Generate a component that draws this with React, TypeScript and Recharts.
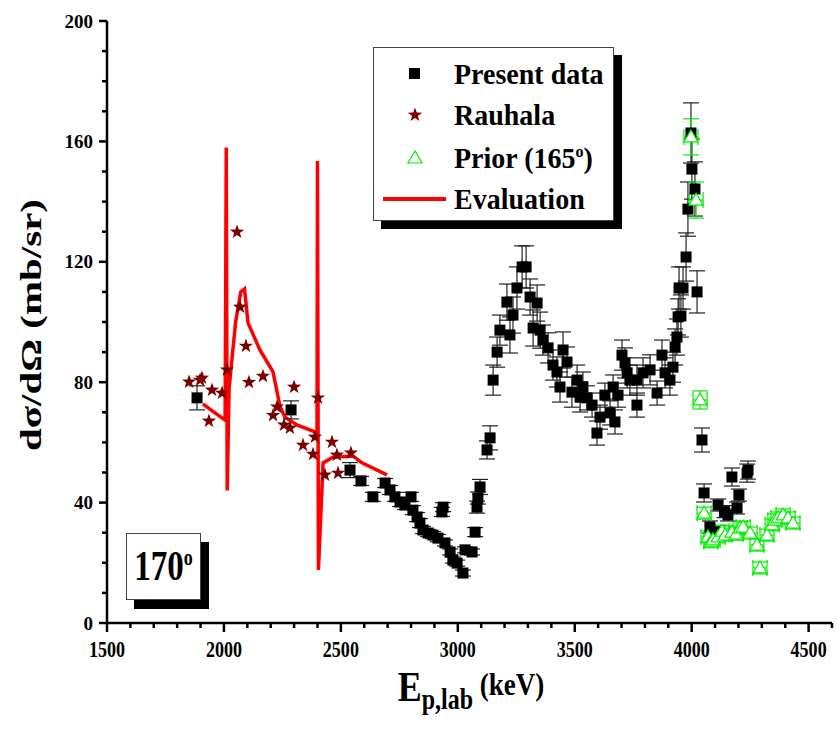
import React from "react";
import { ComposedChart, Scatter, Line, XAxis, YAxis, ErrorBar, Legend } from "recharts";

const FONT = '"Liberation Serif", "Times New Roman", serif';

// tick positions
const xMajor = [1500, 2000, 2500, 3000, 3500, 4000, 4500];
const xTicks = [
  1500, 1600, 1700, 1800, 1900, 2000, 2100, 2200, 2300, 2400, 2500, 2600, 2700, 2800, 2900, 3000,
  3100, 3200, 3300, 3400, 3500, 3600, 3700, 3800, 3900, 4000, 4100, 4200, 4300, 4400, 4500, 4600,
];
const yMajor = [0, 40, 80, 120, 160, 200];
const yTicks = [0, 10, 20, 30, 40, 50, 60, 70, 80, 90, 100, 110, 120, 130, 140, 150, 160, 170, 180, 190, 200];

// present data: [E (keV), dσ/dΩ, error]
const presentData: [number, number, number][] = [
  [1885, 74.8, 4], [2287, 70.8, 3], [2539, 50.8, 2.5], [2586, 47.2, 1.5], [2637, 41.9, 1.5],
  [2689, 46.5, 1.5], [2710, 44.2, 1.5], [2731, 41.9, 1.5], [2753, 40.2, 1.5], [2774, 39.2, 1.5],
  [2800, 41.9, 1.5], [2808, 37.5, 1.5], [2826, 35.2, 1.5], [2838, 33.2, 1.5], [2851, 30.9, 1.2],
  [2873, 29.9, 1.2], [2894, 29.2, 1.2], [2915, 28.2, 1.2], [2932, 36.9, 1.5], [2937, 38.5, 1.5],
  [2945, 26.6, 1], [2967, 23.6, 1], [2979, 20.9, 1], [2997, 19.9, 1], [3022, 16.6, 1],
  [3031, 24.3, 1], [3061, 23.6, 1], [3074, 30.2, 1.5], [3082, 38.5, 2], [3086, 41.5, 2],
  [3095, 45.2, 2.5], [3125, 57.5, 3], [3138, 61.5, 4], [3151, 80.7, 5], [3168, 90, 5],
  [3180, 97.3, 5], [3210, 106.6, 6], [3223, 95.7, 6], [3236, 102.3, 6], [3253, 111.3, 7],
  [3275, 118.3, 7], [3292, 118.3, 7], [3309, 108.3, 6], [3322, 98, 6], [3339, 106.3, 6],
  [3352, 97.3, 6], [3364, 94, 5], [3386, 91.4, 5], [3407, 85.7, 5], [3424, 83.4, 5],
  [3437, 78.4, 5], [3450, 90.7, 6], [3467, 86.7, 5], [3488, 76.7, 5], [3510, 80.7, 5],
  [3523, 75.1, 5], [3535, 78.4, 5], [3552, 74.8, 4], [3574, 72.4, 4], [3595, 63.1, 4],
  [3608, 68.4, 4], [3629, 75.7, 4], [3651, 69.8, 4], [3664, 78.4, 4], [3672, 66.8, 4],
  [3685, 75.7, 4], [3702, 89, 5], [3715, 86.4, 5], [3724, 83.1, 5], [3736, 80.7, 5],
  [3766, 72.4, 4], [3766, 80.7, 5], [3792, 83.1, 5], [3822, 84.1, 5], [3852, 76.4, 4],
  [3873, 89, 5], [3886, 83.1, 5], [3907, 80.7, 5], [3920, 85, 5], [3929, 91.7, 6],
  [3937, 95, 6], [3942, 101.7, 6], [3946, 111.3, 7], [3954, 102, 7], [3963, 111.3, 7],
  [3976, 121.6, 8], [3984, 137.5, 9], [3997, 162.8, 10], [4001, 150.8, 10], [4014, 144.2, 9],
  [4023, 110, 7], [4044, 60.8, 4], [4053, 43.2, 3], [4078, 31.9, 2], [4100, 30.2, 2],
  [4113, 39.2, 2], [4140, 37, 2], [4155, 35.9, 2], [4172, 48.5, 3], [4194, 38.2, 2],
  [4202, 42.5, 2], [4237, 49.8, 3], [4241, 50.8, 3],
];

// Rauhala: [E, dσ/dΩ]
const rauhalaData: [number, number][] = [
  [1851, 80.1], [1898, 80.7], [1906, 81.4], [1936, 67.1], [1949, 77.4], [1992, 76.4],
  [2013, 84.1], [2056, 129.9], [2069, 105], [2094, 92], [2107, 80], [2167, 82],
  [2210, 69], [2227, 71.8], [2257, 65.8], [2282, 64.8], [2300, 78.4], [2338, 59.1],
  [2381, 56.1], [2389, 61.8], [2402, 74.8], [2432, 49.2], [2462, 60.1], [2483, 55.8],
  [2488, 49.8], [2543, 56.5],
];

// Prior (165°): [E, dσ/dΩ, error]
const priorData: [number, number, number][] = [
  [3997, 161.5, 6], [4019, 140.5, 6], [4036, 74.1, 3], [4053, 36.5, 2], [4070, 28.6, 2],
  [4082, 27, 2], [4091, 27.6, 2], [4113, 28.6, 2], [4130, 30.5, 2], [4143, 29.2, 2],
  [4172, 30.2, 2], [4190, 29.5, 2], [4207, 31.6, 2], [4220, 31.9, 2], [4250, 29.9, 2],
  [4279, 25.9, 2], [4292, 18.3, 2], [4322, 29.2, 2], [4344, 32.6, 2], [4356, 34.2, 2],
  [4369, 34.9, 2], [4391, 35.9, 2], [4412, 34.9, 2], [4433, 33.2, 2],
];
const priorEnergyErr = 30;

// Evaluation curve: [E, dσ/dΩ]
const evaluationData: [number, number][] = [
  [1910, 72.8], [1950, 70.5], [2005, 67.4], [2010, 158], [2014, 44], [2022, 78],
  [2050, 100], [2072, 110], [2088, 111], [2103, 99.7], [2154, 90.7], [2210, 83.4],
  [2240, 71.8], [2261, 68.4], [2312, 65.8], [2389, 63.5], [2398, 63], [2400, 153.5],
  [2404, 17.6], [2424, 53.2], [2466, 55.1], [2552, 55.5], [2590, 53.2], [2697, 49.2],
];

const present = presentData.map(([x, y, err]) => ({ x, y, err }));
const rauhala = rauhalaData.map(([x, y]) => ({ x, y }));
const prior = priorData.map(([x, y, err]) => ({ x, y, err, xerr: priorEnergyErr }));
const evaluation = evaluationData.map(([x, y]) => ({ x, y }));

const starPath = (cx: number, cy: number, ro: number, ri: number) => {
  const pts: string[] = [];
  for (let i = 0; i < 10; i++) {
    const r = i % 2 === 0 ? ro : ri;
    const a = -Math.PI / 2 + (i * Math.PI) / 5;
    pts.push(`${cx + r * Math.cos(a)},${cy + r * Math.sin(a)}`);
  }
  return pts.join(" ");
};

const SquareDot = (p: any) => <rect x={p.cx - 5.5} y={p.cy - 5.5} width={11} height={11} fill="#000" />;
const StarDot = (p: any) => <polygon points={starPath(p.cx, p.cy, 7.5, 3)} fill="#7a0000" />;
const TriDot = (p: any) => (
  <polygon
    points={`${p.cx},${p.cy - 7} ${p.cx - 7},${p.cy + 5} ${p.cx + 7},${p.cy + 5}`}
    fill="#fff"
    stroke="#00ee00"
    strokeWidth={1.2}
  />
);

const tickText = { fontFamily: FONT, fontWeight: "bold" as const, fontSize: 19, fill: "#000" };

const BottomTick = ({ x, y, payload }: any) => {
  const major = xMajor.includes(payload.value);
  return (
    <g>
      <line x1={x} x2={x} y1={y} y2={y + (major ? 9 : 5)} stroke="#000" strokeWidth={2.5} />
      {major && (
        <text transform={`translate(${x},${y + 34}) scale(0.95,1.18)`} textAnchor="middle" {...tickText}>
          {payload.value}
        </text>
      )}
    </g>
  );
};

const TopTick = ({ x, y, payload }: any) => {
  const major = xMajor.includes(payload.value);
  return <line x1={x} x2={x} y1={y} y2={y + (major ? 9 : 5)} stroke="#000" strokeWidth={2.5} />;
};

const LeftTick = ({ x, y, payload }: any) => {
  const major = yMajor.includes(payload.value);
  return (
    <g>
      <line x1={x} x2={x - (major ? 8 : 5)} y1={y} y2={y} stroke="#000" strokeWidth={2.5} />
      {major && (
        <text x={x - 14} y={y} dy="0.35em" textAnchor="end" {...tickText}>
          {payload.value}
        </text>
      )}
    </g>
  );
};

const RightTick = ({ x, y, payload }: any) => {
  const major = yMajor.includes(payload.value);
  return <line x1={x} x2={x - (major ? 9 : 5)} y1={y} y2={y} stroke="#000" strokeWidth={2.5} />;
};

const LegendBox = () => {
  const rowStyle: React.CSSProperties = { position: "absolute", left: 0, height: 40, width: "100%", display: "flex", alignItems: "center" };
  const label: React.CSSProperties = { position: "absolute", left: 80, whiteSpace: "nowrap", transform: "scaleY(1.08)" };
  return (
    <div
      style={{
        position: "relative",
        width: 239,
        height: 172,
        border: "1px solid #444",
        background: "#fff",
        boxShadow: "8px 8px 0 #000",
        fontFamily: FONT,
        fontWeight: "bold",
        fontSize: 28,
        color: "#000",
      }}
    >
      <div style={{ ...rowStyle, top: 6 }}>
        <svg width={80} height={40} style={{ position: "absolute", left: 0 }}>
          <rect x={35} y={14} width={11} height={11} fill="#000" />
        </svg>
        <span style={label}>Present data</span>
      </div>
      <div style={{ ...rowStyle, top: 47 }}>
        <svg width={80} height={40} style={{ position: "absolute", left: 0 }}>
          <polygon points={starPath(41, 20, 7.5, 3)} fill="#7a0000" />
        </svg>
        <span style={label}>Rauhala</span>
      </div>
      <div style={{ ...rowStyle, top: 90 }}>
        <svg width={80} height={40} style={{ position: "absolute", left: 0 }}>
          <polygon points="41,13 34,25 48,25" fill="#fff" stroke="#00ee00" strokeWidth={1.2} />
        </svg>
        <span style={label}>
          Prior (165<sup style={{ fontSize: 16 }}>o</sup>)
        </span>
      </div>
      <div style={{ ...rowStyle, top: 131 }}>
        <svg width={80} height={40} style={{ position: "absolute", left: 0 }}>
          <line x1={9} x2={72} y1={20} y2={20} stroke="#ff0000" strokeWidth={4} />
        </svg>
        <span style={label}>Evaluation</span>
      </div>
    </div>
  );
};

export default function App() {
  return (
    <div style={{ position: "absolute", left: 0, top: 0, width: 837, height: 729, background: "#fff" }}>
      <ComposedChart width={837} height={729} margin={{ top: 21, right: 5, bottom: 46, left: 47 }}>
        <XAxis
          type="number"
          dataKey="x"
          domain={[1500, 4600]}
          allowDataOverflow
          ticks={xTicks}
          interval={0}
          height={60}
          tickSize={0}
          tickMargin={0}
          tickLine={false}
          tick={<BottomTick />}
          axisLine={{ stroke: "#000", strokeWidth: 2.5 }}
        />
        <XAxis
          xAxisId="top"
          orientation="top"
          type="number"
          dataKey="x"
          domain={[1500, 4600]}
          allowDataOverflow
          ticks={xTicks}
          interval={0}
          height={0}
          mirror
          tickSize={0}
          tickMargin={0}
          tickLine={false}
          tick={<TopTick />}
          axisLine={{ stroke: "#000", strokeWidth: 2.5 }}
        />
        <YAxis
          type="number"
          dataKey="y"
          domain={[0, 200]}
          allowDataOverflow
          ticks={yTicks}
          interval={0}
          width={60}
          tickSize={0}
          tickMargin={0}
          tickLine={false}
          tick={<LeftTick />}
          axisLine={{ stroke: "#000", strokeWidth: 2.5 }}
        />
        <YAxis
          yAxisId="right"
          orientation="right"
          type="number"
          dataKey="y"
          domain={[0, 200]}
          allowDataOverflow
          ticks={yTicks}
          interval={0}
          width={0}
          mirror
          tickSize={0}
          tickMargin={0}
          tickLine={false}
          tick={<RightTick />}
          axisLine={{ stroke: "#000", strokeWidth: 2.5 }}
        />
        <Legend
          layout="vertical"
          align="center"
          verticalAlign="middle"
          content={() => <LegendBox />}
          wrapperStyle={{ left: 373, top: 47, width: 241, height: 174 }}
        />
        <Line
          data={evaluation}
          dataKey="y"
          type="linear"
          stroke="#ff0000"
          strokeWidth={3.5}
          dot={false}
          isAnimationActive={false}
          name="Evaluation"
        />
        <Scatter data={present} shape={SquareDot} isAnimationActive={false} name="Present data">
          <ErrorBar dataKey="err" direction="y" width={8} stroke="#222" strokeWidth={1.2} />
        </Scatter>
        <Scatter data={rauhala} shape={StarDot} isAnimationActive={false} name="Rauhala" />
        <Scatter data={prior} shape={TriDot} isAnimationActive={false} name="Prior (165°)">
          <ErrorBar dataKey="err" direction="y" width={8} stroke="#00ee00" strokeWidth={1.2} />
          <ErrorBar dataKey="xerr" direction="x" width={8} stroke="#00ee00" strokeWidth={1.2} />
        </Scatter>
      </ComposedChart>

      <svg width={837} height={729} style={{ position: "absolute", left: 0, top: 0, pointerEvents: "none" }}>
        <text
          transform="translate(41,325) rotate(-90)"
          textAnchor="middle"
          fontFamily={FONT}
          fontWeight="bold"
          fontSize={30}
          textLength={252}
          lengthAdjust="spacingAndGlyphs"
        >
          dσ/dΩ (mb/sr)
        </text>
        <g transform="translate(471,701) scale(1,1.2)">
          <text x={0} y={0} textAnchor="middle" fontFamily={FONT} fontWeight="bold">
            <tspan fontSize={36}>E</tspan>
            <tspan fontSize={24} dy={7}>p,lab</tspan>
            <tspan fontSize={27} dy={-12}> (keV)</tspan>
          </text>
        </g>
      </svg>

      <div
        style={{
          position: "absolute",
          left: 126,
          top: 533,
          width: 75,
          height: 67,
          border: "1px solid #444",
          background: "#fff",
          boxShadow: "8px 9px 0 #000",
          boxSizing: "border-box",
          fontFamily: FONT,
          fontWeight: "bold",
          fontSize: 33,
          display: "flex",
          alignItems: "center",
          justifyContent: "center",
        }}
      >
        <span style={{ display: "inline-block", transform: "scaleY(1.28)" }}>
          170<sup style={{ fontSize: 18, verticalAlign: 12 }}>o</sup>
        </span>
      </div>
    </div>
  );
}
